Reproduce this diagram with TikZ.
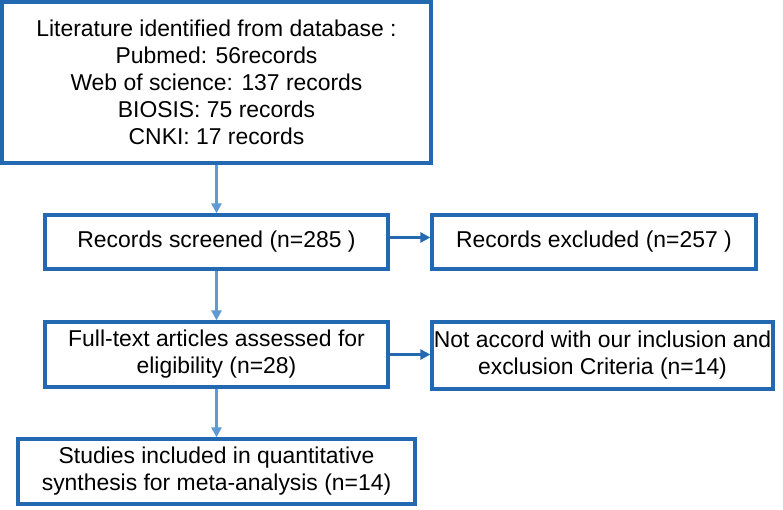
\documentclass[tikz,border=0pt]{standalone}
\usepackage{fontspec}
\setmainfont{Liberation Sans}
\usetikzlibrary{arrows.meta}
\definecolor{boxblue}{RGB}{35,105,178}
\definecolor{arrblue}{RGB}{95,155,210}
\begin{document}
\begin{tikzpicture}[x=1pt,y=-1pt,
  box/.style={draw=boxblue, line width=3.3pt, fill=white, align=center, inner sep=0pt,
    font=\fontsize{22.9}{27}\selectfont},
  varrow/.style={draw=arrblue, line width=2.6pt, -{Triangle[length=10pt,width=10pt]}},
  harrow/.style={draw=boxblue, line width=2.6pt, -{Triangle[length=10pt,width=10pt]}}]
\useasboundingbox[fill=white] (0,0) rectangle (783,510);
\node[box, minimum width=429pt, minimum height=161pt] (lit) at (216.5,82.5)
  {Literature identified from database :\\Pubmed: 56records\\Web of science: 137 records\\BIOSIS: 75 records\\CNKI: 17 records};
\node[box, minimum width=343pt, minimum height=54pt] (scr) at (216.5,242)
  {Records screened (n=285 )};
\node[box, minimum width=324pt, minimum height=54pt] (exc) at (594,242)
  {Records excluded (n=257 )};
\node[box, minimum width=343pt, minimum height=65pt] (full) at (216.5,354.5)
  {Full-text articles assessed for\\eligibility (n=28)};
\node[box, minimum width=341pt, minimum height=67pt] (notacc) at (602.5,355.5)
  {Not accord with our inclusion and\\exclusion Criteria (n=14)};
\node[box, minimum width=397pt, minimum height=65pt] (stud) at (216.5,471.5)
  {Studies included in quantitative\\synthesis for meta-analysis (n=14)};
\coordinate (s1) at ([yshift=4.5pt]scr.east);
\draw[varrow] (lit.south) -- (scr.north);
\draw[varrow] (scr.south) -- (full.north);
\draw[varrow] (full.south) -- (stud.north);
\draw[harrow] (s1) -- (s1 -| exc.west);
\draw[harrow] (full.east) -- (full.east -| notacc.west);
\end{tikzpicture}
\end{document}
